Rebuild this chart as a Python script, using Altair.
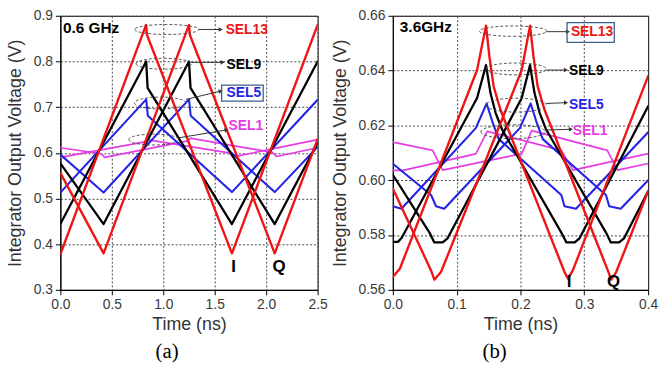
import altair as alt
import pandas as pd

# ---------------- panel (a): 0.6 GHz ----------------
A_SEL13_I_T = [0.0, 0.833, 0.842, 1.667, 2.5]
A_SEL13_I_V = [0.378, 0.880, 0.858, 0.380, 0.880]
A_SEL13_Q_T = [0.0, 0.420, 1.250, 1.259, 2.083, 2.5]
A_SEL13_Q_V = [0.556, 0.380, 0.880, 0.858, 0.380, 0.630]

A_SEL9_I_T = [0.0, 0.834, 0.848, 1.667, 2.5]
A_SEL9_I_V = [0.444, 0.800, 0.742, 0.444, 0.800]
A_SEL9_Q_T = [0.0, 0.420, 1.250, 1.265, 2.083, 2.5]
A_SEL9_Q_V = [0.577, 0.444, 0.800, 0.742, 0.444, 0.622]

A_SEL5_I_T = [0.0, 0.834, 0.850, 1.667, 2.5]
A_SEL5_I_V = [0.513, 0.717, 0.681, 0.514, 0.716]
A_SEL5_Q_T = [0.0, 0.420, 1.250, 1.267, 2.083, 2.5]
A_SEL5_Q_V = [0.596, 0.513, 0.717, 0.681, 0.514, 0.613]

A_SEL1_I_T = [0.0, 0.820, 0.840, 1.640, 1.680, 2.5]
A_SEL1_I_V = [0.590, 0.624, 0.629, 0.600, 0.591, 0.629]
A_SEL1_Q_T = [0.0, 0.400, 0.430, 1.240, 1.260, 2.060, 2.100, 2.5]
A_SEL1_Q_V = [0.611, 0.598, 0.590, 0.626, 0.632, 0.601, 0.592, 0.611]

# ---------------- panel (b): 3.6 GHz ----------------
B_SEL13_I_T = [0.0, 0.011, 0.132, 0.146, 0.1514, 0.158, 0.1685, 0.269, 0.2744, 0.282, 0.4]
B_SEL13_I_V = [0.5647, 0.5677, 0.6402, 0.6564, 0.6450, 0.6342, 0.6258, 0.5665, 0.5641, 0.5671, 0.6380]
B_SEL13_Q_T = [0.0, 0.060, 0.065, 0.0755, 0.202, 0.215, 0.2205, 0.227, 0.2375, 0.337, 0.342, 0.350, 0.4]
B_SEL13_Q_V = [0.5970, 0.5670, 0.5637, 0.5665, 0.6402, 0.6564, 0.6450, 0.6342, 0.6258, 0.5670, 0.5637, 0.5665, 0.5960]

B_SEL9_I_T = [0.0, 0.008, 0.014, 0.132, 0.146, 0.153, 0.161, 0.171, 0.264, 0.272, 0.285, 0.2925, 0.4]
B_SEL9_I_V = [0.5775, 0.5775, 0.5790, 0.6300, 0.6420, 0.6318, 0.6246, 0.6186, 0.5809, 0.5773, 0.5773, 0.5788, 0.6270]
B_SEL9_Q_T = [0.0, 0.0574, 0.065, 0.078, 0.0858, 0.202, 0.215, 0.222, 0.230, 0.240, 0.334, 0.3416, 0.3545, 0.3623, 0.4]
B_SEL9_Q_V = [0.6020, 0.5809, 0.5773, 0.5773, 0.5788, 0.6300, 0.6420, 0.6318, 0.6246, 0.6186, 0.5809, 0.5773, 0.5773, 0.5788, 0.5960]

B_SEL5_I_T = [0.0, 0.0134, 0.130, 0.147, 0.1556, 0.166, 0.264, 0.269, 0.287, 0.4]
B_SEL5_I_V = [0.5905, 0.5896, 0.6190, 0.6280, 0.6216, 0.6150, 0.5946, 0.5905, 0.5896, 0.6175]
B_SEL5_Q_T = [0.0, 0.060, 0.0677, 0.0806, 0.199, 0.216, 0.2246, 0.235, 0.334, 0.339, 0.357, 0.4]
B_SEL5_Q_V = [0.6060, 0.5946, 0.5905, 0.5896, 0.6190, 0.6280, 0.6216, 0.6150, 0.5946, 0.5905, 0.5896, 0.6000]

B_SEL1_I_T = [0.0, 0.016, 0.130, 0.148, 0.264, 0.282, 0.4]
B_SEL1_I_V = [0.6036, 0.6036, 0.6096, 0.6178, 0.6109, 0.6037, 0.6097]
B_SEL1_Q_T = [0.0, 0.0625, 0.078, 0.202, 0.2176, 0.336, 0.352, 0.4]
B_SEL1_Q_V = [0.6139, 0.6109, 0.6037, 0.6097, 0.6181, 0.6109, 0.6037, 0.6061]

SERIES = ["SEL1", "SEL5", "SEL9", "SEL13"]
COLORS = {"SEL13": "#f01414", "SEL9": "#000000", "SEL5": "#2424e6", "SEL1": "#e63ce6"}
WIDTHS = {"SEL13": 2.4, "SEL9": 2.3, "SEL5": 2.1, "SEL1": 1.7}

# ---------------- annotations ----------------
A_LABELS = ["SEL13", "SEL9", "SEL5", "SEL1"]
A_LABEL_T = [1.606, 1.615, 1.615, 1.635]
A_LABEL_V = [0.868, 0.792, 0.730, 0.659]
A_ELL_T = [1.034, 1.005, 0.971, 0.909]
A_ELL_V = [0.870, 0.795, 0.709, 0.629]
A_ELL_W = [65, 56, 52, 51]
A_ELL_H = [10, 11, 12, 11]
A_ARR_T1 = [1.346, 1.270, 1.221, 1.154]
A_ARR_V1 = [0.870, 0.798, 0.717, 0.633]
A_ARR_T2 = [1.558, 1.577, 1.558, 1.615]
A_ARR_V2 = [0.870, 0.798, 0.735, 0.650]
A_ARR_ANGLE = [0, 0, 347, 350]
A_BOX = (1.567, 1.971, 0.713, 0.748)  # around SEL5
A_FREQ = ("0.6 GHz", 0.025, 0.874)
A_IQ = [("I", 1.683, 0.350), ("Q", 2.125, 0.350)]

B_LABELS = ["SEL13", "SEL9", "SEL5", "SEL1"]
B_LABEL_T = [0.279, 0.276, 0.276, 0.282]
B_LABEL_V = [0.6541, 0.6400, 0.6276, 0.6181]
B_ELL_T = [0.1884, 0.1930, 0.1930, 0.1884]
B_ELL_V = [0.6544, 0.6406, 0.6274, 0.6177]
B_ELL_W = [68, 61, 61, 65]
B_ELL_H = [11, 12, 11, 11]
B_ARR_T1 = [0.2403, 0.2403, 0.2403, 0.2388]
B_ARR_V1 = [0.6542, 0.6402, 0.6280, 0.6183]
B_ARR_T2 = [0.2744, 0.2713, 0.2713, 0.2790]
B_ARR_V2 = [0.6542, 0.6402, 0.6283, 0.6186]
B_ARR_ANGLE = [0, 0, 0, 0]
B_BOX = (0.273, 0.347, 0.6503, 0.6575)  # around SEL13
B_FREQ = ("3.6GHz", 0.011, 0.6558)
B_IQ = [("I", 0.276, 0.5629), ("Q", 0.346, 0.5630)]

FONT = "Liberation Sans"


def ellipse_path(ratio):
    r = round(ratio, 4)
    return f"M-1,0A1,{r},0,1,0,1,0A1,{r},0,1,0,-1,0Z"


def axis(values, major, fmt, title, extent=None, tpad=4):
    test = f"abs(datum.value/{major} - round(datum.value/{major})) < 0.000001"
    kw = dict(
        values=values,
        title=title,
        labelExpr=f"({test}) ? format(datum.value, '{fmt}') : ''",
        labelFlush=False,
        grid=True,
        gridDash=[2, 2],
        gridColor="#444444",
        gridWidth=1,
        gridOpacity={"condition": {"test": test, "value": 1}, "value": 0},
        tickSize={"condition": {"test": test, "value": 5}, "value": 3},
        tickColor="#000000",
        domainColor="#000000",
        labelFont=FONT,
        labelFontSize=14,
        labelColor="#3a3a3a",
        labelPadding=3,
        titleFont=FONT,
        titleFontSize=18,
        titleFontWeight="normal",
        titleColor="#333333",
        titlePadding=tpad,
        labelOverlap=False,
    )
    if extent is not None:
        kw["minExtent"] = extent
        kw["maxExtent"] = extent
    return alt.Axis(**kw)


def panel(spec, xdom, ydom, xvals, yvals, xmajor, ymajor, xfmt, yfmt, w, h, yext, ytpad, letter):
    xs = alt.Scale(domain=xdom, nice=False, zero=False)
    ys = alt.Scale(domain=ydom, nice=False, zero=False)
    X = alt.X("t:Q", scale=xs, axis=axis(xvals, xmajor, xfmt, "Time (ns)", tpad=4))
    Y = alt.Y("v:Q", scale=ys, axis=axis(yvals, ymajor, yfmt, "Integrator Output Voltage (V)",
                                         extent=yext, tpad=ytpad))
    layers = []
    for sel in SERIES:
        for comp in ["I", "Q"]:
            ts = spec[f"{sel}_{comp}_T"]
            vs = spec[f"{sel}_{comp}_V"]
            df = pd.DataFrame({"t": ts, "v": vs, "o": list(range(len(ts)))})
            layers.append(
                alt.Chart(df).mark_line(color=COLORS[sel], strokeWidth=WIDTHS[sel], clip=True,
                                        strokeJoin="round", strokeCap="round")
                .encode(x=X, y=Y, order="o:Q")
            )
    ann = spec["ann"]
    n = len(ann["labels"])
    ell = pd.DataFrame({
        "t": ann["ell_t"], "v": ann["ell_v"],
        "k": [str(i) for i in range(n)],
        "s": [w_ ** 2 for w_ in ann["ell_w"]],
    })
    shapes = [ellipse_path(hh / ww) for ww, hh in zip(ann["ell_w"], ann["ell_h"])]
    layers.append(
        alt.Chart(ell).mark_point(filled=False, strokeDash=[3, 2], strokeWidth=0.9, color="#444444", opacity=1)
        .encode(x="t:Q", y="v:Q",
                shape=alt.Shape("k:N", scale=alt.Scale(domain=[str(i) for i in range(n)], range=shapes), legend=None),
                size=alt.Size("s:Q", scale=None))
    )
    arr = pd.DataFrame({"t": ann["arr_t1"], "v": ann["arr_v1"], "t2": ann["arr_t2"], "v2": ann["arr_v2"],
                        "a": ann["arr_angle"]})
    layers.append(
        alt.Chart(arr).mark_rule(color="#333333", strokeWidth=1)
        .encode(x="t:Q", y="v:Q", x2="t2:Q", y2="v2:Q")
    )
    head = pd.DataFrame({"t": ann["arr_t2"], "v": ann["arr_v2"], "a": ann["arr_angle"]})
    layers.append(
        alt.Chart(head).mark_point(shape="triangle-right", filled=True, size=22, color="#333333", opacity=1)
        .encode(x="t:Q", y="v:Q", angle=alt.Angle("a:Q", scale=None))
    )
    bx = ann["box"]
    box = pd.DataFrame({"t": [bx[0]], "t2": [bx[1]], "v": [bx[2]], "v2": [bx[3]]})
    layers.append(
        alt.Chart(box).mark_rect(filled=False, stroke="#3c5f8c", strokeWidth=1.3)
        .encode(x="t:Q", x2="t2:Q", y="v:Q", y2="v2:Q")
    )
    lab = pd.DataFrame({"t": ann["label_t"], "v": ann["label_v"], "txt": ann["labels"],
                        "c": [COLORS[l] for l in ann["labels"]]})
    layers.append(
        alt.Chart(lab).mark_text(font=FONT, fontSize=14, fontWeight="bold", align="left", baseline="middle")
        .encode(x="t:Q", y="v:Q", text="txt:N", color=alt.Color("c:N", scale=None))
    )
    fr = ann["freq"]
    layers.append(
        alt.Chart(pd.DataFrame({"t": [fr[1]], "v": [fr[2]], "txt": [fr[0]]}))
        .mark_text(font=FONT, fontSize=15.5, fontWeight="bold", align="left", baseline="middle", color="#000000")
        .encode(x="t:Q", y="v:Q", text="txt:N")
    )
    iq = pd.DataFrame({"t": [p[1] for p in ann["iq"]], "v": [p[2] for p in ann["iq"]],
                       "txt": [p[0] for p in ann["iq"]]})
    layers.append(
        alt.Chart(iq).mark_text(font=FONT, fontSize=17, fontWeight="bold", align="center", baseline="middle",
                                color="#000000")
        .encode(x="t:Q", y="v:Q", text="txt:N")
    )
    return alt.layer(*layers).properties(
        width=w, height=h,
        title=alt.TitleParams(letter, orient="bottom", anchor="middle", frame="bounds",
                              font="Liberation Serif", fontSize=21, fontWeight="normal",
                              color="#000000", offset=8),
    )


spec_a = {
    "SEL13_I_T": A_SEL13_I_T, "SEL13_I_V": A_SEL13_I_V, "SEL13_Q_T": A_SEL13_Q_T, "SEL13_Q_V": A_SEL13_Q_V,
    "SEL9_I_T": A_SEL9_I_T, "SEL9_I_V": A_SEL9_I_V, "SEL9_Q_T": A_SEL9_Q_T, "SEL9_Q_V": A_SEL9_Q_V,
    "SEL5_I_T": A_SEL5_I_T, "SEL5_I_V": A_SEL5_I_V, "SEL5_Q_T": A_SEL5_Q_T, "SEL5_Q_V": A_SEL5_Q_V,
    "SEL1_I_T": A_SEL1_I_T, "SEL1_I_V": A_SEL1_I_V, "SEL1_Q_T": A_SEL1_Q_T, "SEL1_Q_V": A_SEL1_Q_V,
    "ann": {"labels": A_LABELS, "label_t": A_LABEL_T, "label_v": A_LABEL_V,
            "ell_t": A_ELL_T, "ell_v": A_ELL_V, "ell_w": A_ELL_W, "ell_h": A_ELL_H,
            "arr_t1": A_ARR_T1, "arr_v1": A_ARR_V1, "arr_t2": A_ARR_T2, "arr_v2": A_ARR_V2,
            "arr_angle": A_ARR_ANGLE, "box": A_BOX, "freq": A_FREQ, "iq": A_IQ},
}
spec_b = {
    "SEL13_I_T": B_SEL13_I_T, "SEL13_I_V": B_SEL13_I_V, "SEL13_Q_T": B_SEL13_Q_T, "SEL13_Q_V": B_SEL13_Q_V,
    "SEL9_I_T": B_SEL9_I_T, "SEL9_I_V": B_SEL9_I_V, "SEL9_Q_T": B_SEL9_Q_T, "SEL9_Q_V": B_SEL9_Q_V,
    "SEL5_I_T": B_SEL5_I_T, "SEL5_I_V": B_SEL5_I_V, "SEL5_Q_T": B_SEL5_Q_T, "SEL5_Q_V": B_SEL5_Q_V,
    "SEL1_I_T": B_SEL1_I_T, "SEL1_I_V": B_SEL1_I_V, "SEL1_Q_T": B_SEL1_Q_T, "SEL1_Q_V": B_SEL1_Q_V,
    "ann": {"labels": B_LABELS, "label_t": B_LABEL_T, "label_v": B_LABEL_V,
            "ell_t": B_ELL_T, "ell_v": B_ELL_V, "ell_w": B_ELL_W, "ell_h": B_ELL_H,
            "arr_t1": B_ARR_T1, "arr_v1": B_ARR_V1, "arr_t2": B_ARR_T2, "arr_v2": B_ARR_V2,
            "arr_angle": B_ARR_ANGLE, "box": B_BOX, "freq": B_FREQ, "iq": B_IQ},
}

A_XVALS = [0.0, 0.25, 0.5, 0.75, 1.0, 1.25, 1.5, 1.75, 2.0, 2.25, 2.5]
A_YVALS = [0.3, 0.35, 0.4, 0.45, 0.5, 0.55, 0.6, 0.65, 0.7, 0.75, 0.8, 0.85, 0.9]
B_XVALS = [0.0, 0.05, 0.1, 0.15, 0.2, 0.25, 0.3, 0.35, 0.4]
B_YVALS = [0.56, 0.57, 0.58, 0.59, 0.60, 0.61, 0.62, 0.63, 0.64, 0.65, 0.66]

left = panel(spec_a, [0, 2.5], [0.3, 0.9], A_XVALS, A_YVALS, 0.5, 0.1, ".1f", ".1f",
             260, 277, 30, 6, "(a)")
right = panel(spec_b, [0, 0.4], [0.56, 0.66], B_XVALS, B_YVALS, 0.1, 0.02, ".1f", ".2f",
              258, 277, 36, 8, "(b)")

chart = alt.hconcat(left, right, spacing=2).properties(
    padding={"left": 6, "top": 6, "right": 0, "bottom": 0},
    background="white",
).configure_view(stroke="#000000", strokeWidth=1)

chart.save("out.html", embed_options={"renderer": "svg", "actions": False})
